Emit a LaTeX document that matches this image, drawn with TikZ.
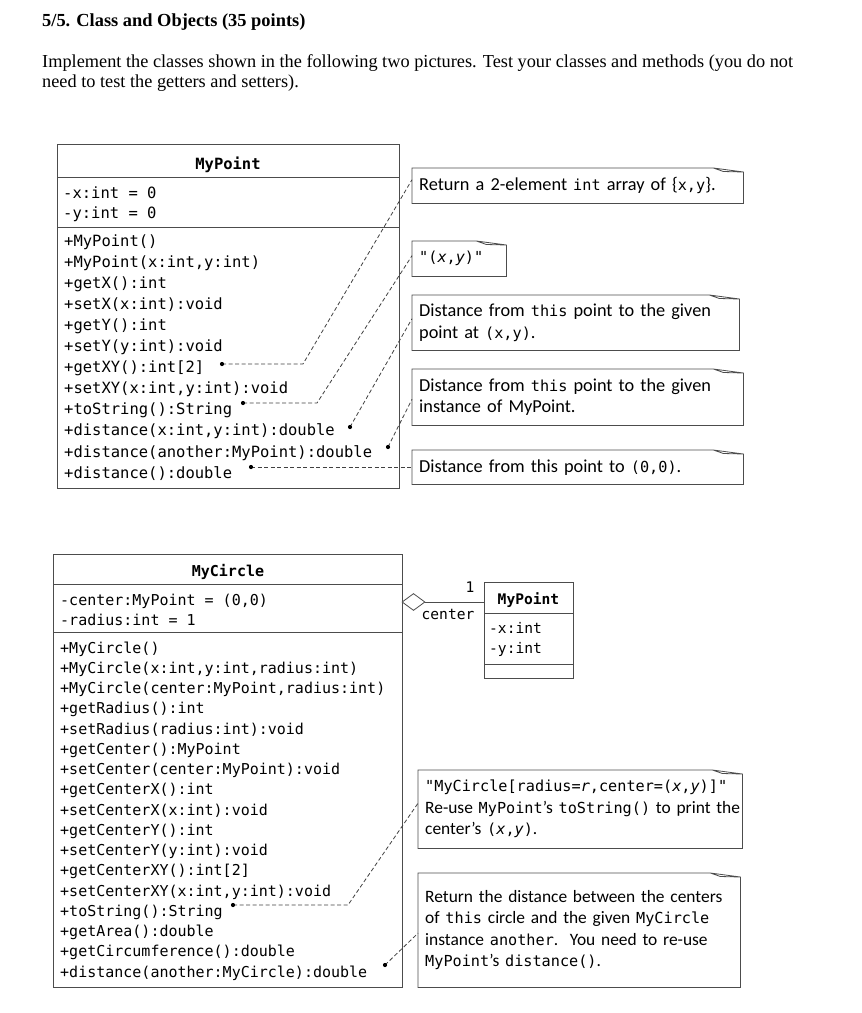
\documentclass[tikz,border=0pt]{standalone}
\usepackage{fontspec}
\setmainfont{Liberation Serif}
\newfontfamily\umlfont{DejaVu Sans Mono}
\newfontfamily\notefont{Carlito}
\newfontfamily\codefont{DejaVu Sans Mono}
\newcommand{\cd}[1]{{\codefont\fontsize{15.2}{20}\selectfont #1}}
\usetikzlibrary{positioning,shapes.geometric}
\tikzset{
      heading/.style={anchor=base west, inner sep=0pt, font=\bfseries\fontsize{18.4}{21}\selectfont},
      intro/.style={anchor=base west, inner sep=0pt, font=\fontsize{18.3}{20}\selectfont},
      classbox/.style={draw=black!70, line width=0.8pt, anchor=north west, inner sep=0pt},
      classline/.style={draw=black!70, line width=0.8pt},
      classname/.style={anchor=base, inner sep=0pt, font=\umlfont\bfseries\fontsize{15.5}{18}\selectfont},
      pmember/.style={anchor=base west, inner sep=0pt, font=\umlfont\fontsize{15.5}{18}\selectfont},
      cmember/.style={anchor=base west, inner sep=0pt, font=\umlfont\fontsize{15}{18}\selectfont},
      smember/.style={anchor=base west, inner sep=0pt, font=\umlfont\fontsize{14.6}{18}\selectfont},
      aggr/.style={diamond, draw=black!70, fill=white, line width=0.8pt, minimum width=23pt, minimum height=17pt, inner sep=0pt},
      assoc/.style={inner sep=0pt, font=\umlfont\fontsize{14.6}{18}\selectfont},
      note/.style={anchor=north west, inner xsep=7pt, inner ysep=0pt, align=left, font=\notefont\fontsize{18.3}{21.5}\selectfont},
      bignote/.style={note, font=\notefont\fontsize{17.4}{21.5}\selectfont},
      noteline/.style={draw=black!70, line width=0.8pt},
      link/.style={draw=black!75, line width=0.8pt, dash pattern=on 4pt off 2.5pt}
    }
\begin{document}
\begin{tikzpicture}[x=1pt,y=-1pt]
    \useasboundingbox (0,0) rectangle (862,1013);
    \node[heading] (title) at (42,26) {5/5. Class and Objects (35 points)};
    \node[intro] (intro1) at (42,67) {Implement the classes shown in the following two pictures. Test your classes and methods (you do not};
    \node[intro] (intro2) at (42,87) {need to test the getters and setters).};

    \node[classbox, minimum width=342pt, minimum height=344pt] (mypoint) at (57,144) {};
    \draw[classline] (57,177) -- (399,177) (57,227) -- (399,227);
    \node[classname] (mypointname) at (228,169) {MyPoint};
    \node[pmember] (pa0) at (63,198) {-x:int = 0};
    \node[pmember] (pa1) at (63,218) {-y:int = 0};
    \foreach \m [count=\i from 0] in {{+MyPoint()},{+MyPoint(x:int,y:int)},{+getX():int},{+setX(x:int):void},{+getY():int},{+setY(y:int):void},{+getXY():int[2]},{+setXY(x:int,y:int):void},{+toString():String},{+distance(x:int,y:int):double},{+distance(another:MyPoint):double},{+distance():double}}
      \node[pmember] (pm\i) at (64,{246+21.1*\i}) {\m};

    \node[classbox, minimum width=349pt, minimum height=433pt] (mycircle) at (53,554) {};
    \draw[classline] (53,584) -- (402,584) (53,632) -- (402,632);
    \node[classname, font=\umlfont\bfseries\fontsize{15}{18}\selectfont] (mycirclename) at (228,576) {MyCircle};
    \node[cmember] (ca0) at (60,605) {-center:MyPoint = (0,0)};
    \node[cmember] (ca1) at (60,625) {-radius:int = 1};
    \foreach \m [count=\i from 0] in {{+MyCircle()},{+MyCircle(x:int,y:int,radius:int)},{+MyCircle(center:MyPoint,radius:int)},{+getRadius():int},{+setRadius(radius:int):void},{+getCenter():MyPoint},{+setCenter(center:MyPoint):void},{+getCenterX():int},{+setCenterX(x:int):void},{+getCenterY():int},{+setCenterY(y:int):void},{+getCenterXY():int[2]},{+setCenterXY(x:int,y:int):void},{+toString():String},{+getArea():double},{+getCircumference():double},{+distance(another:MyCircle):double}}
      \node[cmember] (cm\i) at (60,{653+20.25*\i}) {\m};

    \node[classbox, minimum width=89pt, minimum height=96pt] (pt) at (484,582) {};
    \draw[classline] (484,613) -- (573,613) (484,664) -- (573,664);
    \node[classname, font=\umlfont\bfseries\fontsize{14.6}{18}\selectfont] (ptname) at (528.5,604) {MyPoint};
    \node[smember] (sa0) at (489,633) {-x:int};
    \node[smember] (sa1) at (489,653) {-y:int};
    \node[aggr] (agg) at (413.5,602) {};
    \draw[classline] (agg.east) -- (agg.east -| pt.west);
    \node[assoc] (mult) at (470,587) {1};
    \node[assoc] (role) at (448,614) {center};

    \node[note, text width=317pt, minimum height=35pt] (n1) at (412,168) {Return a 2-element \cd{int} array of \{\cd{x,y}\}.};
    \node[note, text width=80pt, minimum height=35pt] (n2) at (412,241) {\cd{"(\textit{x},\textit{y})"}};
    \node[note, text width=313pt, minimum height=55pt] (n3) at (412,295) {Distance from \cd{this} point to the given\\point at \cd{(x,y)}.};
    \node[note, text width=317pt, minimum height=56pt] (n4) at (412,369) {Distance from \cd{this} point to the given\\instance of MyPoint.};
    \node[note, text width=317pt, minimum height=34pt] (n5) at (412,450) {Distance from this point to \cd{(0,0)}.};
    \node[bignote, text width=310pt, minimum height=78pt] (n6) at (418,770) {\mbox{\cd{"MyCircle[radius=\textit{r},center=(\textit{x},\textit{y})]"}}\\\mbox{Re-use \cd{MyPoint}’s \cd{toString()} to print the}\\center’s \cd{(\textit{x},\textit{y})}.};
    \node[bignote, text width=308pt, minimum height=114pt] (n7) at (418,873) {\mbox{Return the distance between the centers}\\\mbox{of \cd{this} circle and the given \cd{MyCircle}}\\\mbox{instance \cd{another}.\ \ You need to re-use}\\\cd{MyPoint}’s \cd{distance()}.};
    \foreach \n in {n1,n2,n3,n4,n5,n6,n7}
      \draw[noteline] (\n.north west) -- ([xshift=-30pt]\n.north east) -- ([yshift=-4pt]\n.north east) -- (\n.south east) -- (\n.south west) -- cycle
        ([xshift=-30pt]\n.north east) -- ([xshift=-20pt,yshift=-3.5pt]\n.north east) -- ([yshift=-4pt]\n.north east);

    \coordinate (d1) at (222,364);
    \coordinate (d2) at (243,403);
    \coordinate (d3) at (350,427);
    \coordinate (d4) at (388,447);
    \coordinate (d5) at (251,467);
    \coordinate (c1) at (233,905);
    \coordinate (c2) at (385,965);
    \draw[link] (d1) -- ++(81,0) -- ([yshift=6pt]n1.west);
    \draw[link] (d2) -- ++(74,0) -- ([yshift=3pt]n2.west);
    \draw[link] (d3) -- ([yshift=4pt]n3.west);
    \draw[link] (d4) -- ([yshift=-2pt]n4.west);
    \draw[link] (d5) -- (d5 -| n5.west);
    \draw[link] (c1) -- ++(115,0) -- ([yshift=6pt]n6.west);
    \draw[link] (c2) -- ([yshift=-3pt]n7.west);
    \foreach \d in {d1,d2,d3,d4,d5,c1,c2}
      \fill[black] (\d) circle (2.1pt);
\end{tikzpicture}
\end{document}
